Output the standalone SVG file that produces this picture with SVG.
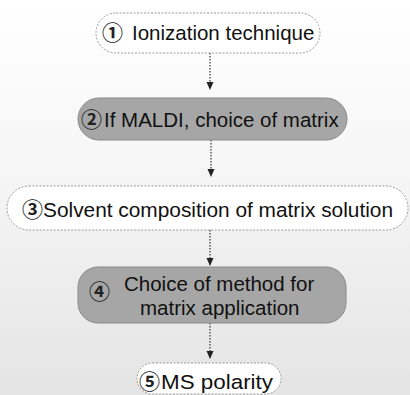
<svg xmlns="http://www.w3.org/2000/svg" width="410" height="395" viewBox="0 0 410 395">
  <defs>
    <linearGradient id="bg" x1="0" y1="0" x2="0" y2="1">
      <stop offset="0" stop-color="#ffffff"/>
      <stop offset="0.45" stop-color="#f5f5f5"/>
      <stop offset="1" stop-color="#e4e4e4"/>
    </linearGradient>
    <marker id="arrow" viewBox="0 0 8 8" refX="7" refY="4" markerWidth="8" markerHeight="8" markerUnits="userSpaceOnUse" orient="auto">
      <path d="M0,0.5 L8,4 L0,7.5 Z" fill="#222"/>
    </marker>
    <style>
      .txt { font-family: "Liberation Sans", Arial, "Noto Sans CJK JP", sans-serif; font-size: 20.5px; fill: #111; }
      .num { font-family: "Noto Sans CJK JP", "DejaVu Sans", sans-serif; font-size: 21px; font-weight: 700; fill: #222; }
      .pill { fill: #ffffff; stroke: #9a9a9a; stroke-width: 1; stroke-dasharray: 2 1.5; }
      .gray { fill: #a6a6a6; stroke: #8a8a8a; stroke-width: 1; }
      .conn { stroke: #333; stroke-width: 1.2; stroke-dasharray: 1.5 1.5; fill: none; marker-end: url(#arrow); }
    </style>
  </defs>
  <rect x="0" y="0" width="410" height="395" fill="url(#bg)"/>

  <g id="connectors">
    <line class="conn" x1="210" y1="53" x2="210" y2="89"/>
    <line class="conn" x1="211" y1="140" x2="211" y2="176"/>
    <line class="conn" x1="210" y1="230" x2="210" y2="265"/>
    <line class="conn" x1="210" y1="323" x2="210" y2="358"/>
  </g>

  <g id="node1">
    <rect class="pill" x="96" y="13" width="224" height="40" rx="20" ry="20"/>
    <text class="num" x="102" y="40">①</text>
    <text class="txt" x="132" y="40">Ionization technique</text>
  </g>

  <g id="node2">
    <rect class="gray" x="78" y="98" width="269" height="42" rx="21" ry="21"/>
    <text class="num" x="81" y="127">②</text>
    <text class="txt" x="104" y="127">If MALDI, choice of matrix</text>
  </g>

  <g id="node3">
    <rect class="pill" x="7" y="186" width="401" height="44" rx="22" ry="22"/>
    <text class="num" x="22" y="217">③</text>
    <text class="txt" x="43" y="217" textLength="350" lengthAdjust="spacingAndGlyphs">Solvent composition of matrix solution</text>
  </g>

  <g id="node4">
    <rect class="gray" x="78" y="267" width="268" height="56" rx="20" ry="20"/>
    <text class="num" x="89" y="299">④</text>
    <text class="txt" x="124" y="291">Choice of method for</text>
    <text class="txt" x="140" y="315">matrix application</text>
  </g>

  <g id="node5">
    <rect class="pill" x="137" y="363" width="144" height="31" rx="15.5" ry="15.5"/>
    <text class="num" x="139" y="389">⑤</text>
    <text class="txt" x="161" y="389" textLength="112" lengthAdjust="spacingAndGlyphs">MS polarity</text>
  </g>
</svg>
